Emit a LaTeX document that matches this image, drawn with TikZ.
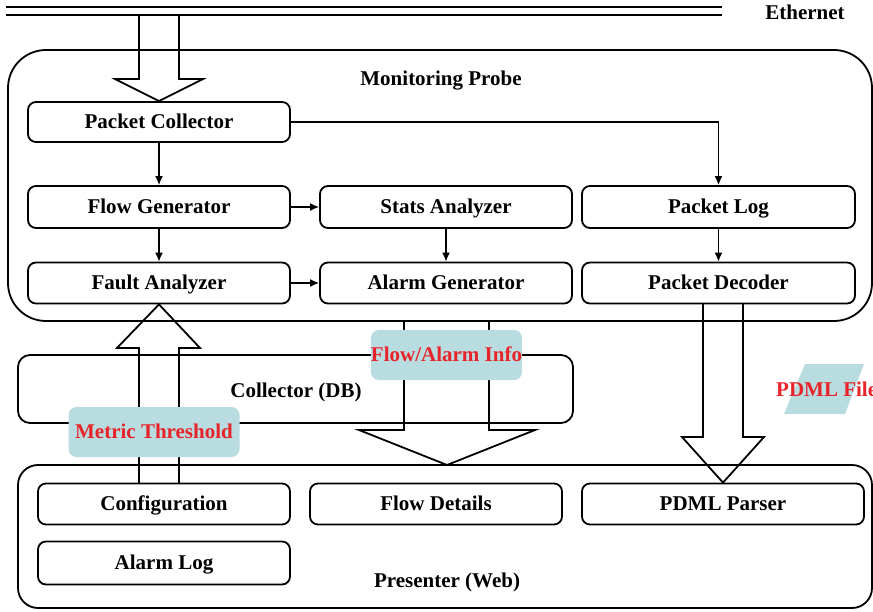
\documentclass[tikz,border=0pt]{standalone}
\usepackage{fontspec}
\setmainfont{Liberation Serif}
\usetikzlibrary{arrows.meta}
\definecolor{tagfill}{RGB}{184,220,224}
\definecolor{tagred}{RGB}{232,36,42}
\begin{document}
\begin{tikzpicture}[x=1pt,y=-1pt,
  lbl/.style={font=\fontsize{21}{24}\selectfont\bfseries, text height=13.5pt, text depth=0pt},
  frame/.style={draw, line width=1.8pt, inner sep=0pt},
  unit/.style={draw, line width=1.8pt, rounded corners=8pt, minimum height=41pt, inner sep=0pt, lbl},
  flow/.style={line width=1.5pt, -{Latex[length=9pt,width=8pt]}},
  bigarrow/.style={line width=1.8pt, line join=miter},
  tag/.style={fill=tagfill, rounded corners=8pt, inner sep=0pt, text=tagred, lbl},
  wire/.style={line width=2pt}]
\useasboundingbox (0,0) rectangle (873,612);

% Ethernet bus
\coordinate (ethL) at (6,7);
\coordinate (ethR) at (722,7);
\draw[wire] (ethL) -- (ethR);
\draw[wire] ([yshift=-8.5pt]ethL) -- ([yshift=-8.5pt]ethR);
\node[lbl] (eth) at (805,12.5) {Ethernet};

% Containers
\node[frame, rounded corners=38pt, minimum width=864pt, minimum height=271pt] (probe) at (440,185.5) {};
\node[lbl] (probelbl) at (441,78.5) {Monitoring Probe};
\node[frame, rounded corners=12pt, minimum width=555pt, minimum height=68pt] (db) at (295.5,389) {};
\node[lbl] (dblbl) at (296,390.5) {Collector (DB)};
\node[frame, rounded corners=20pt, minimum width=854pt, minimum height=143pt] (web) at (445,536.5) {};
\node[lbl] (weblbl) at (447,580.5) {Presenter (Web)};

% Probe units
\node[unit, minimum width=262pt, minimum height=40pt] (pc) at (159,122) {Packet Collector};
\node[unit, minimum width=262pt, minimum height=42pt] (fg) at (159,207) {Flow Generator};
\node[unit, minimum width=262pt] (fa) at (159,283) {Fault Analyzer};
\node[unit, minimum width=252pt, minimum height=42pt] (sa) at (446,207) {Stats Analyzer};
\node[unit, minimum width=252pt] (ag) at (446,283) {Alarm Generator};
\node[unit, minimum width=273pt, minimum height=42pt] (pl) at (718.5,207) {Packet Log};
\node[unit, minimum width=273pt] (pd) at (718.5,283) {Packet Decoder};

% Presenter units
\node[unit, minimum width=252pt] (cfg) at (164,504) {Configuration};
\node[unit, minimum width=252pt] (fd) at (436,504) {Flow Details};
\node[unit, minimum width=282pt] (pp) at (723,504) {PDML Parser};
\node[unit, minimum width=252pt, minimum height=43pt] (al) at (164,563) {Alarm Log};

% Data flow inside the probe
\draw[flow] (pc) -- (fg);
\draw[flow] (pc.east) -| (pl.north);
\draw[flow] (fg) -- (sa);
\draw[flow] (fg) -- (fa);
\draw[flow] (sa) -- (ag);
\draw[flow] (fa) -- (ag);
\draw[flow] (pl) -- (pd);

% Hollow block arrows
\draw[bigarrow] (139,16) -- (139,79) -- (115,79) -- (pc.north) -- (203,79) -- (179,79) -- (179,16);
\draw[bigarrow] (139,483) -- (139,348) -- (117,348) -- (fa.south) -- (200,348) -- (179,348) -- (179,483);
\draw[bigarrow] (404,321) -- (404,430) -- (359,430) -- (447,465) -- (535,430) -- (489,430) -- (489,321);
\draw[bigarrow] (703,303.5) -- (703,437) -- (682,437) -- (pp.north) -- (764,437) -- (743,437) -- (743,303.5);

% Tags on the block arrows
\node[tag, minimum width=171pt, minimum height=50pt] (mt) at (154,432) {Metric Threshold};
\node[tag, minimum width=151pt, minimum height=50pt] (fai) at (446.5,355) {Flow/Alarm Info};

% PDML file symbol
\fill[tagfill] (784,414) -- (805,364) -- (864,364) -- (845,414) -- cycle;
\node[lbl, text=tagred, anchor=west, inner sep=0pt] (pdmlfile) at (776,390) {PDML File};
\end{tikzpicture}
\end{document}
